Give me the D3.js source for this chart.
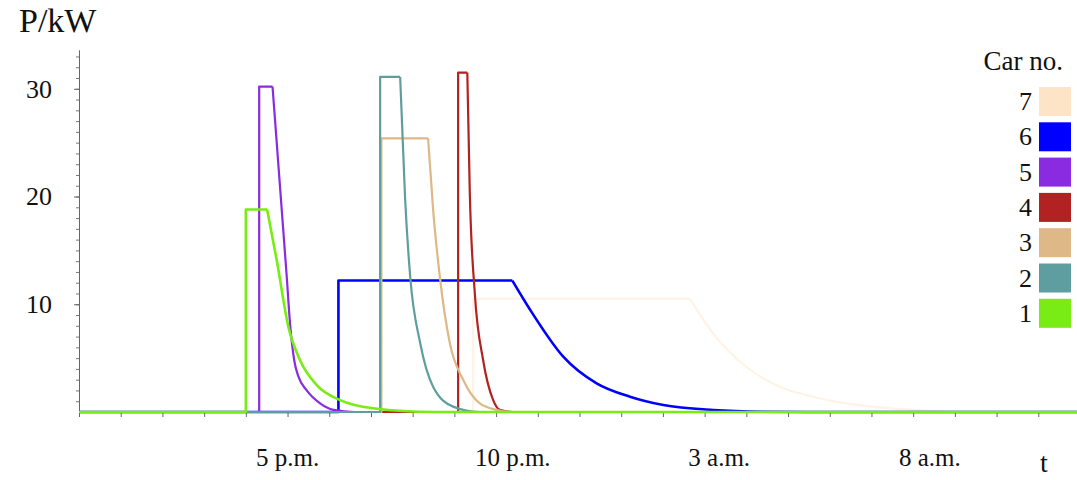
<!DOCTYPE html>
<html>
<head>
<meta charset="utf-8">
<script src="https://cdn.jsdelivr.net/npm/d3@7"></script>
<style>
  body { margin: 0; background: #fff; }
  svg { display: block; }
  text { font-family: "Liberation Serif", "Times New Roman", serif; fill: #111; }
</style>
</head>
<body>
<svg id="chart" width="1077" height="480"></svg>
<script>
// Car numbers and their colours
const carNames = ["1", "2", "3", "4", "5", "6", "7"];
const carColors = ["#78ec14", "#5f9ea0", "#deb887", "#b22222", "#8a2be2", "#0000ff", "#fde4c6"];

// Charging profiles, [hours after noon, kW]:
// idle, switch on, constant power, then the tapering tail
const car1 = [[0, 0], [4.0, 0], [4.0, 18.8], [4.51, 18.8], [4.74, 14.1], [5.02, 7.9], [5.3, 4.8], [5.7, 2.5], [6.26, 1.1], [7.05, 0.35], [8.5, 0], [24, 0]];
const car2 = [[0, 0], [7.22, 0], [7.22, 31.1], [7.7, 31.1], [7.82, 19.7], [7.94, 12.6], [8.18, 6.4], [8.49, 2.35], [8.97, 0.5], [9.6, 0], [24, 0]];
const car3 = [[0, 0], [7.25, 0], [7.25, 25.4], [8.37, 25.4], [8.49, 18.8], [8.65, 12.6], [8.89, 6.4], [9.21, 3.0], [9.61, 0.8], [10.01, 0.2], [10.4, 0], [24, 0]];
const car4 = [[0, 0], [9.09, 0], [9.09, 31.5], [9.31, 31.5], [9.37, 20.3], [9.49, 11.0], [9.69, 4.8], [9.93, 1.1], [10.09, 0.2], [10.4, 0], [24, 0]];
const car5 = [[0, 0], [4.32, 0], [4.32, 30.2], [4.64, 30.2], [4.98, 12.6], [5.06, 8.2], [5.16, 4.8], [5.26, 3.3], [5.46, 2.0], [5.78, 0.8], [6.1, 0.2], [6.6, 0], [24, 0]];
const car6 = [[0, 0], [6.22, 0], [6.22, 12.2], [10.39, 12.2], [10.82, 9.47], [11.61, 5.14], [12.41, 2.66], [13.21, 1.42], [14.01, 0.65], [15.21, 0.19], [16.4, 0.03], [17.5, 0], [24, 0]];
const car7 = [[0, 0], [9.45, 0], [9.45, 10.5], [14.65, 10.5], [15.2, 7.3], [16.0, 4.2], [16.8, 2.35], [17.6, 1.42], [18.4, 0.8], [19.2, 0.43], [20.0, 0.2], [21.2, 0], [24, 0]];
const profiles = [car1, car2, car3, car4, car5, car6, car7];

// Axis ticks and labels
const yTickValues = [10, 20, 30];
const xTickLabels = ["5 p.m.", "10 p.m.", "3 a.m.", "8 a.m."];
const xTickLabelHours = [5, 10.4, 15.35, 20.4];

const svg = d3.select("#chart");

const x = d3.scaleLinear().domain([0, 24]).range([79, 1080]);
const y = d3.scaleLinear().domain([0, 33.6]).range([412, 50]);

// Y axis: minor ticks every kW, major every 10
svg.append("g")
    .attr("transform", "translate(79,0)")
    .call(d3.axisLeft(y).tickValues(d3.range(1, 34)).tickFormat("").tickSize(3).tickSizeOuter(0))
    .call(g => g.selectAll("line, path").attr("stroke", "#777"));

const yAxis = svg.append("g")
    .attr("transform", "translate(79,0)")
    .call(d3.axisLeft(y).tickValues(yTickValues).tickSize(5).tickPadding(22).tickSizeOuter(0));
yAxis.select(".domain").attr("stroke", "#666");
yAxis.selectAll("line").attr("stroke", "#666");
yAxis.selectAll("text")
    .style("font-family", "'Liberation Serif', serif")
    .style("font-size", "26px")
    .attr("fill", "#111");

// X axis: a tick every hour
const xAxis = svg.append("g")
    .attr("transform", "translate(0,412)")
    .call(d3.axisBottom(x).tickValues(d3.range(0, 25)).tickFormat("").tickSize(5).tickSizeOuter(0));
xAxis.selectAll("line, path").attr("stroke", "#666");

svg.selectAll(".xlabel")
    .data(xTickLabels)
    .enter()
    .append("text")
    .attr("class", "xlabel")
    .attr("x", (d, i) => x(xTickLabelHours[i]))
    .attr("y", 466)
    .attr("text-anchor", "middle")
    .style("font-size", "25px")
    .text(d => d);

svg.append("text")
    .attr("x", 1040)
    .attr("y", 472)
    .style("font-size", "28px")
    .text("t");

svg.append("text")
    .attr("x", 19)
    .attr("y", 32)
    .style("font-size", "34px")
    .text("P/kW");

// Curves: straight rise and flat top, smooth tail
const straight = d3.line().x(d => x(d[0])).y(d => y(d[1]));
const smooth = d3.line().x(d => x(d[0])).y(d => y(d[1])).curve(d3.curveMonotoneX);

const drawOrder = [6, 5, 4, 3, 2, 1, 0];
drawOrder.forEach(i => {
    const pts = profiles[i];
    svg.append("path")
        .attr("d", straight(pts.slice(0, 4)) + smooth(pts.slice(3)))
        .attr("fill", "none")
        .attr("stroke", carColors[i])
        .attr("stroke-width", i === 0 || i === 5 ? 2.6 : 2.2)
        .attr("stroke-opacity", i === 6 ? 0.45 : 1)
        .attr("stroke-linejoin", "round");
});

// Legend, 7 at the top
const legend = svg.append("g");
legend.append("text")
    .attr("x", 1063)
    .attr("y", 70)
    .attr("text-anchor", "end")
    .style("font-size", "27px")
    .text("Car no.");

const items = legend.selectAll(".item")
    .data(carNames.map((name, i) => ({ name, color: carColors[i] })).reverse())
    .enter()
    .append("g")
    .attr("class", "item")
    .attr("transform", (d, i) => `translate(1039,${87 + i * 35.3})`);

items.append("rect")
    .attr("width", 32)
    .attr("height", 29)
    .attr("fill", d => d.color);

items.append("text")
    .attr("x", -7)
    .attr("y", 23)
    .attr("text-anchor", "end")
    .style("font-size", "26px")
    .text(d => d.name);
</script>
</body>
</html>
